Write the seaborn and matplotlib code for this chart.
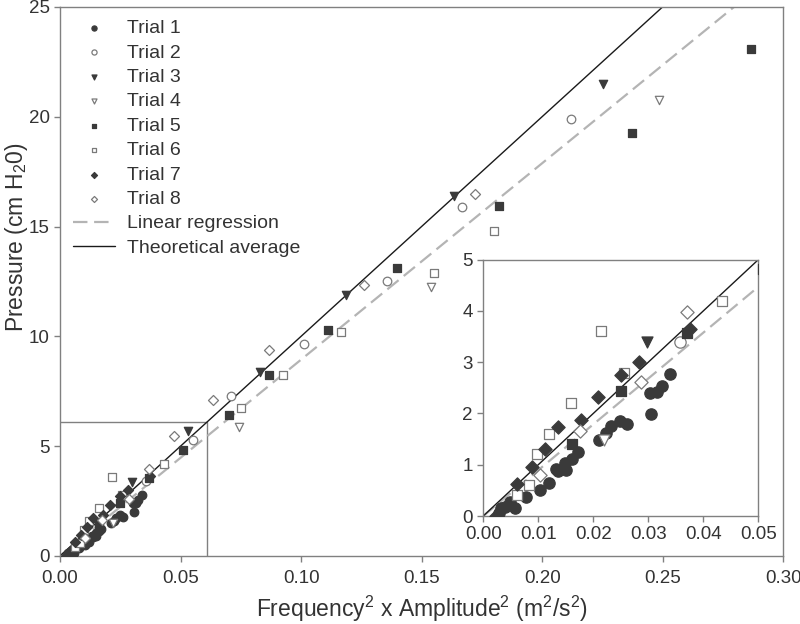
import numpy as np
import seaborn as sns
from matplotlib import pyplot as plt

# trial data (frequency^2 x amplitude^2, pressure)
x1 = [0.0029, 0.0033, 0.0040, 0.0049, 0.0057, 0.0078, 0.0104, 0.0119, 0.0132, 0.0135, 0.0148, 0.0151,
      0.0161, 0.0172, 0.0210, 0.0224, 0.0232, 0.0249, 0.0262, 0.0303, 0.0305, 0.0315, 0.0325, 0.0340]
y1 = [0.05, 0.15, 0.18, 0.28, 0.15, 0.38, 0.50, 0.65, 0.91, 0.88, 1.04, 0.89,
      1.12, 1.25, 1.49, 1.61, 1.75, 1.86, 1.79, 2.40, 1.99, 2.42, 2.53, 2.76]
x2 = [0.0358, 0.0553, 0.0708, 0.1012, 0.1355, 0.1666, 0.2118]
y2 = [3.40, 5.28, 7.30, 9.64, 12.52, 15.90, 19.88]
x3 = [0.0298, 0.0532, 0.0830, 0.1185, 0.1634, 0.2251]
y3 = [3.39, 5.70, 8.39, 11.88, 16.40, 21.47]
x4 = [0.0219, 0.0741, 0.1538, 0.2486]
y4 = [1.49, 5.86, 12.26, 20.76]
x5 = [0.0161, 0.0250, 0.0371, 0.0509, 0.0701, 0.0868, 0.1113, 0.1399, 0.1821, 0.2374, 0.2866]
y5 = [1.40, 2.43, 3.56, 4.82, 6.42, 8.25, 10.29, 13.10, 15.94, 19.27, 23.08]
x6 = [0.0061, 0.0083, 0.0098, 0.0120, 0.0160, 0.0214, 0.0256, 0.0433, 0.0751, 0.0926, 0.1165, 0.1552, 0.1801]
y6 = [0.41, 0.60, 1.20, 1.59, 2.20, 3.60, 2.79, 4.20, 6.72, 8.22, 10.21, 12.89, 14.79]
x7 = [0.0024, 0.0061, 0.0088, 0.0113, 0.0135, 0.0177, 0.0208, 0.0250, 0.0283, 0.0375]
y7 = [0.00, 0.62, 0.96, 1.30, 1.73, 1.88, 2.32, 2.75, 3.00, 3.64]
x8 = [0.0103, 0.0175, 0.0286, 0.0370, 0.0474, 0.0636, 0.0867, 0.1260, 0.1721]
y8 = [0.80, 1.66, 2.61, 3.98, 5.48, 7.10, 9.38, 12.33, 16.48]

trials = ['Trial 1', 'Trial 2', 'Trial 3', 'Trial 4', 'Trial 5', 'Trial 6', 'Trial 7', 'Trial 8']
xs = [x1, x2, x3, x4, x5, x6, x7, x8]
ys = [y1, y2, y3, y4, y5, y6, y7, y8]

reg_slope = 89.4
reg_intercept = 0.0
theory_slope = 100.0

markers = ['o', 'o', 'v', 'v', 's', 's', 'D', 'D']
filled = [True, False, True, False, True, False, True, False]
size_main = [38, 38, 36, 36, 28, 28, 26, 26]

dark = '#3a3a3a'
grey = '#808080'
txt = '#333333'

sns.set_style('ticks')
plt.rcParams['font.family'] = ['Liberation Sans', 'DejaVu Sans']
plt.rcParams['mathtext.fontset'] = 'custom'
plt.rcParams['mathtext.rm'] = 'Liberation Sans'
plt.rcParams['mathtext.it'] = 'Liberation Sans:italic'
plt.rcParams['mathtext.bf'] = 'Liberation Sans:bold'


def draw(ax, scale):
    for i in range(len(trials)):
        if filled[i]:
            fc, ec = dark, dark
        else:
            fc, ec = 'white', '#7a7a7a'
        sns.scatterplot(x=xs[i], y=ys[i], marker=markers[i], s=size_main[i] * scale,
                        facecolor=fc, edgecolor=ec, linewidth=0.9, ax=ax,
                        label=trials[i], zorder=3)
    ax.axline((0, reg_intercept), slope=reg_slope, color='#b4b4b4', lw=1.6,
              dashes=(6.5, 3), label='Linear regression', zorder=2)
    ax.axline((0, 0), slope=theory_slope, color='#1a1a1a', lw=1.0,
              label='Theoretical average', zorder=2)


def style_axes(ax):
    for sp in ax.spines.values():
        sp.set_visible(True)
        sp.set_color(grey)
        sp.set_linewidth(1.0)
    ax.tick_params(colors=grey, labelcolor=txt, labelsize=13.5, length=4, width=1.0)


fig = plt.figure(figsize=(8, 6.24), dpi=100)
ax = fig.add_axes([0.075, 0.109, 0.904, 0.880])
draw(ax, 1.0)
ax.set_xlim(0, 0.30)
ax.set_ylim(0, 25)
ax.set_xticks(np.arange(0, 0.31, 0.05))
ax.set_xticklabels([f'{v:.2f}' for v in np.arange(0, 0.31, 0.05)])
ax.set_yticks(range(0, 26, 5))
style_axes(ax)
ax.tick_params(axis='x', pad=6)
ax.set_xlabel('Frequency$^{2}$ x Amplitude$^{2}$ (m$^{2}$/s$^{2}$)', fontsize=16.5, color=txt)
ax.set_ylabel('Pressure (cm H$_{2}$0)', fontsize=16.5, color=txt)
ax.xaxis.set_label_coords(0.5, -0.068)
ax.yaxis.set_label_coords(-0.041, 0.58)

# zoom box
ax.plot([0, 0.0608, 0.0608], [6.1, 6.1, 0], color=grey, lw=1.0, zorder=1)

handles, labels = ax.get_legend_handles_labels()
ax.legend(handles, labels, loc='upper left', bbox_to_anchor=(0.0, 1.0), frameon=False,
          fontsize=14, markerscale=0.6, handlelength=2.2, handletextpad=0.6,
          labelspacing=0.35, borderaxespad=0.25, labelcolor=txt)

# inset
axin = fig.add_axes([0.604, 0.173, 0.344, 0.411])
draw(axin, 1.75)
axin.set_xlim(0, 0.05)
axin.set_ylim(0, 5)
axin.set_xticks(np.arange(0, 0.051, 0.01))
axin.set_xticklabels([f'{v:.2f}' for v in np.arange(0, 0.051, 0.01)])
axin.set_yticks(range(0, 6))
axin.set_xlabel('')
axin.set_ylabel('')
style_axes(axin)
axin.get_legend().remove()

fig.savefig('out.png', dpi=100)
